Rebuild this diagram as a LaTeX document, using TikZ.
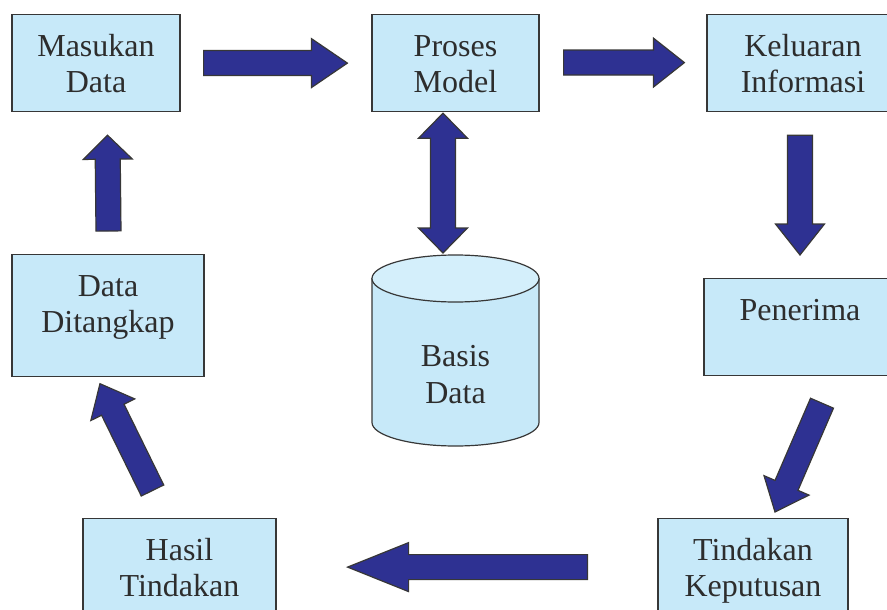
\documentclass[tikz,border=0pt]{standalone}
\usepackage{fontspec}
\setmainfont{Liberation Serif}
\usetikzlibrary{calc,positioning}

\definecolor{boxfill}{RGB}{199,233,249}
\definecolor{boxtop}{RGB}{212,239,251}
\definecolor{arrowfill}{RGB}{46,49,146}
\definecolor{edge}{RGB}{55,55,55}
\definecolor{ink}{RGB}{45,45,45}

% fat arrow from #2 to #3, #1 = head length
\newcommand{\BlockArrow}[3][30]{%
  \coordinate (neck) at ($(#3)!#1pt!(#2)$);
  \draw[Flow] ($(#2)!12.5pt!90:(#3)$) -- ($(neck)!12.5pt!90:(#3)$) -- ($(neck)!24.5pt!90:(#3)$) -- (#3)
    -- ($(neck)!24.5pt!-90:(#3)$) -- ($(neck)!12.5pt!-90:(#3)$) -- ($(#2)!12.5pt!-90:(#3)$) -- cycle;
}
% same, with a head at both ends
\newcommand{\DoubleArrow}[3][25]{%
  \coordinate (neckA) at ($(#2)!#1pt!(#3)$);
  \coordinate (neckB) at ($(#3)!#1pt!(#2)$);
  \draw[Flow] (#2) -- ($(neckA)!24.5pt!90:(#3)$) -- ($(neckA)!12.5pt!90:(#3)$) -- ($(neckB)!12.5pt!90:(#3)$)
    -- ($(neckB)!24.5pt!90:(#3)$) -- (#3) -- ($(neckB)!24.5pt!-90:(#3)$) -- ($(neckB)!12.5pt!-90:(#3)$)
    -- ($(neckA)!12.5pt!-90:(#3)$) -- ($(neckA)!24.5pt!-90:(#3)$) -- cycle;
}

\begin{document}
\begin{tikzpicture}
    [
        x=1pt, y=-1pt,
        Box/.style={rectangle, draw=edge, fill=boxfill, line width=1.2pt, text=ink, inner sep=0pt,
            anchor=north, align=center, text height=41.5pt, text depth=55.5pt,
            font=\fontsize{32}{36.5}\selectfont},
        TallBox/.style={Box, text depth=80pt},
        Label/.style={text=ink, inner sep=0pt, align=center, text width=160pt, anchor=base,
            font=\fontsize{32}{36.5}\selectfont},
        Flow/.style={draw=edge, fill=arrowfill, line width=1.2pt, line join=miter}
    ]

    \useasboundingbox (0,0) rectangle (887,610);

    \node[Box, text width=168pt] (masukan_data) at (96,14) {Masukan\\Data};
    \node[Box, text width=167pt] (proses_model) at (455.5,14) {Proses\\Model};
    \node[Box, text width=192pt] (keluaran_informasi) at (803,14) {Keluaran\\Informasi};
    \node[TallBox, text width=192pt] (data_ditangkap) at (108,254) {Data\\Ditangkap};
    \node[Box, text width=192pt] (penerima) at (800,278) {Penerima};
    \node[Box, text width=193pt] (hasil_tindakan) at (179.5,518) {Hasil\\Tindakan};
    \node[Box, text width=190pt] (tindakan_keputusan) at (753,518) {Tindakan\\Keputusan};

    % database cylinder
    \coordinate (basis_data_top) at (455.5,255);
    \filldraw[draw=edge, fill=boxfill, line width=1.2pt] (372,278.5) -- (372,422.5)
        arc[start angle=180, end angle=360, x radius=83.5pt, y radius=23.5pt] -- (539,278.5) -- cycle;
    \filldraw[draw=edge, fill=boxtop, line width=1.2pt] (455.5,278.5) ellipse [x radius=83.5pt, y radius=23.5pt];
    \node[Label] (basis_data) at (455.5,366.7) {Basis\\Data};

    \coordinate (a1_tail) at ($(masukan_data.east)+(23,0)$);
    \coordinate (a1_tip) at ($(proses_model.west)+(-24,0)$);
    \coordinate (a2_tail) at ($(proses_model.east)+(24,-0.5)$);
    \coordinate (a2_tip) at ($(keluaran_informasi.west)+(-22,-0.5)$);
    \coordinate (a3_tail) at ($(keluaran_informasi.south)+(-3,23)$);
    \coordinate (a3_tip) at ($(penerima.north)+(0,-23)$);
    \coordinate (a4_tail) at ($(penerima.south)+(22,27)$);
    \coordinate (a4_tip) at ($(tindakan_keputusan.north)+(22,-6)$);
    \coordinate (a5_tail) at ($(tindakan_keputusan.west)+(-70,0)$);
    \coordinate (a5_tip) at ($(hasil_tindakan.east)+(71,0)$);
    \coordinate (a6_tail) at ($(hasil_tindakan.north)+(-27,-27.5)$);
    \coordinate (a6_tip) at ($(data_ditangkap.south)+(-8,7)$);
    \coordinate (a7_tail) at ($(data_ditangkap.north)+(0.5,-23)$);
    \coordinate (a7_tip) at ($(masukan_data.south)+(11.5,23)$);
    \coordinate (a8_top) at ($(proses_model.south)+(-12.5,1)$);
    \coordinate (a8_bottom) at ($(basis_data_top)+(-12.5,-2)$);

    \BlockArrow[36]{a1_tail}{a1_tip}
    \BlockArrow[31]{a2_tail}{a2_tip}
    \BlockArrow[31]{a3_tail}{a3_tip}
    \BlockArrow[29]{a4_tail}{a4_tip}
    \BlockArrow[61]{a5_tail}{a5_tip}
    \BlockArrow[29]{a6_tail}{a6_tip}
    \BlockArrow[24]{a7_tail}{a7_tip}
    \DoubleArrow[25]{a8_top}{a8_bottom}
\end{tikzpicture}
\end{document}
